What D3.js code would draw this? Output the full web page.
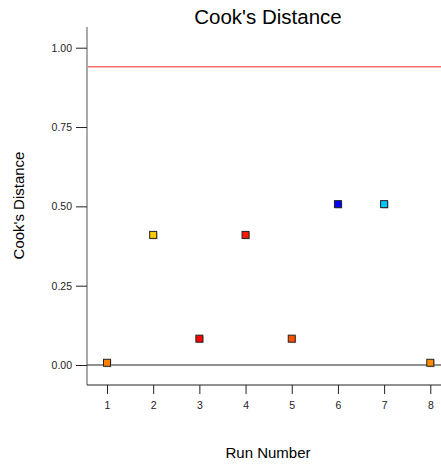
<!DOCTYPE html>
<html><head><meta charset="utf-8">
<script src="https://cdn.jsdelivr.net/npm/d3@7"></script>
<style>body{margin:0;background:#fff;} svg{display:block;font-family:Arial,"Liberation Sans",sans-serif;}</style>
</head><body>
<script>
const runs = [1,2,3,4,5,6,7,8];
const cooks = [0.007,0.41,0.083,0.41,0.083,0.507,0.507,0.007];
const pointColors = ["#FF8000","#FFC800","#FF0000","#FF1A00","#FF5000","#0000FF","#00C8FF","#FF8C00"];
const yTicks = [0,0.25,0.5,0.75,1.0];
const limit = 0.94;

const W=441,H=464;
const svg=d3.select("body").append("svg").attr("width",W).attr("height",H);
const x=d3.scaleLinear().domain([1,8]).range([107,430.3]);
const y=d3.scaleLinear().domain([0,1]).range([365,47.7]);
const plotTop=27, plotBottom=385, plotLeft=87, plotRight=441;
const FF="Arial,'Liberation Sans',sans-serif";

// axes frame
svg.append("line").attr("x1",plotLeft).attr("x2",plotLeft).attr("y1",plotTop).attr("y2",plotBottom).attr("stroke","#555").attr("stroke-width",1);
svg.append("line").attr("x1",plotLeft).attr("x2",plotRight).attr("y1",plotBottom).attr("y2",plotBottom).attr("stroke","#222").attr("stroke-width",1);

// y axis
const ya=svg.append("g").attr("transform",`translate(${plotLeft},0)`)
  .call(d3.axisLeft(y).tickValues(yTicks).tickFormat(d3.format(".2f")).tickSize(11).tickPadding(4));
ya.select(".domain").remove();
ya.selectAll("line").attr("stroke","#222");
ya.selectAll("text").attr("font-size","10.5px").attr("fill","#222").attr("font-family",FF);

// x axis
const xa=svg.append("g").attr("transform",`translate(0,${plotBottom})`)
  .call(d3.axisBottom(x).tickValues(runs).tickFormat(d3.format("d")).tickSize(9).tickPadding(8));
xa.select(".domain").remove();
xa.selectAll("line").attr("stroke","#222");
xa.selectAll("text").attr("font-size","10.5px").attr("fill","#222").attr("font-family",FF);

// zero line
svg.append("line").attr("x1",plotLeft).attr("x2",plotRight).attr("y1",y(0)).attr("y2",y(0)).attr("stroke","#222").attr("stroke-width",1);
// limit line
svg.append("line").attr("x1",plotLeft+1).attr("x2",plotRight).attr("y1",y(limit)).attr("y2",y(limit)).attr("stroke","#F07070").attr("stroke-width",1.5);

// points
const s=7;
svg.append("g").selectAll("rect.sh").data(runs).join("rect")
  .attr("x",(d,i)=>x(d)-s/2+1).attr("y",(d,i)=>y(cooks[i])-s/2+1).attr("width",s).attr("height",s)
  .attr("fill","#aaa").attr("opacity",0.6);
svg.append("g").selectAll("rect.pt").data(runs).join("rect")
  .attr("x",(d,i)=>x(d)-s/2).attr("y",(d,i)=>y(cooks[i])-s/2).attr("width",s).attr("height",s)
  .attr("fill",(d,i)=>pointColors[i]).attr("stroke","#222").attr("stroke-width",1);

// titles
svg.append("text").attr("x",268).attr("y",24).attr("text-anchor","middle").attr("font-size","20.5px").attr("fill","#000").text("Cook's Distance");
svg.append("text").attr("transform","translate(24,205.5) rotate(-90)").attr("text-anchor","middle").attr("font-size","15px").attr("fill","#000").text("Cook's Distance");
svg.append("text").attr("x",268).attr("y",458).attr("text-anchor","middle").attr("font-size","15px").attr("fill","#000").text("Run Number");
</script>
</body></html>
